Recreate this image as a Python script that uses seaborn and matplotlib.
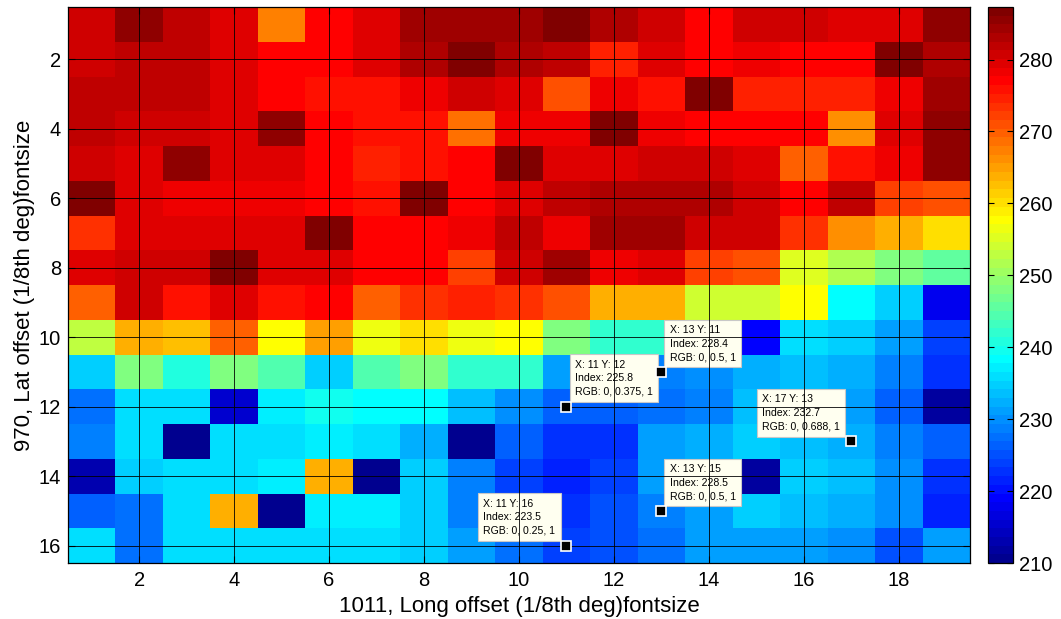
import numpy as np
import pandas as pd
import matplotlib
matplotlib.use("Agg")
import matplotlib.pyplot as plt
from matplotlib.colors import ListedColormap
import seaborn as sns

plt.rcParams['font.family'] = ['Liberation Sans', 'DejaVu Sans']

# ---- data (rows = Lat offset 1..16, cols = Long offset 1..19) ----
lon_idx = list(range(1, 20))
lat_idx = list(range(1, 17))
row01 = [281, 286, 282, 279.5, 267.4, 277, 279.5, 284.3, 284.3, 284.3, 287, 283, 281, 277, 281, 281, 279.5, 279.5, 286]
row02 = [281, 282, 282, 279.5, 277, 277, 279.5, 283, 287, 283, 282, 275.1, 279.5, 277, 278.2, 277, 277, 287, 283]
row03 = [282, 282, 282, 279.5, 277, 276, 276, 278, 281, 279.5, 271, 278, 276, 287, 274.7, 274.7, 274.7, 278, 284]
row04 = [282, 280.5, 280.5, 279.5, 286, 277, 276, 276, 268.6, 278, 278, 287, 278, 277, 277, 277, 266.6, 279.5, 286]
row05 = [280.5, 279.5, 286, 279.5, 279.5, 277, 274.7, 276, 277, 287, 279.5, 279.5, 281, 281, 279.5, 269.8, 276, 278, 286]
row06 = [287, 279.5, 278, 278, 278, 277, 276, 287, 277, 279.5, 282, 283, 283, 283.5, 281, 277, 282, 272.3, 271]
row07 = [273.5, 279.5, 279.5, 279.5, 279.5, 287, 277, 277, 278, 282, 278, 284.3, 284.3, 281, 281, 273.5, 266.6, 264.1, 260.2]
row08 = [279.5, 281, 281, 287, 279.5, 279.5, 277, 277, 272.3, 281, 284, 278, 279.5, 272.3, 271, 255.2, 251.3, 247.5, 245.6]
row09 = [269.8, 281, 276, 279.5, 275.5, 277, 269.8, 273.5, 274.7, 273.5, 271, 264.1, 264.1, 253.9, 253.9, 257.7, 238.4, 234.6, 217.7]
row10 = [252.9, 264.1, 262.5, 269.8, 257.7, 265.5, 256.4, 260.2, 256.4, 257.7, 247.5, 242, 242, 238, 219.5, 235.9, 234.6, 230.6, 223.7]
row11 = [234.6, 248.6, 240.2, 247.5, 244.8, 234.6, 244.8, 248.5, 242, 242, 230.6, 228, 228.4, 229.5, 232, 233.2, 232, 228.4, 222.6]
row12 = [227.5, 236, 236, 215.2, 237.2, 240, 238.5, 238.5, 233.2, 229.5, 225.8, 225.8, 227, 228.4, 233, 232, 230.6, 225.8, 211.3]
row13 = [228.4, 236, 210.5, 236, 236, 237.2, 236, 232, 210.5, 226, 223, 223, 230.6, 232, 234.6, 233, 232.7, 228.4, 225.8]
row14 = [212.7, 234.6, 236, 236, 237.2, 264, 210.5, 234.6, 228.4, 223.7, 221.5, 223.7, 230.6, 232, 212, 234.6, 233, 229.5, 222.6]
row15 = [225.8, 227.5, 236, 264, 210.5, 237.2, 237.2, 234.6, 228.4, 224.5, 222.6, 224.5, 228.5, 230.6, 234.6, 233, 232, 229.5, 221.5]
row16 = [236, 227.5, 236, 236, 236, 236, 236, 234.6, 230.6, 227, 223.5, 224.5, 228, 230.6, 230.6, 230.6, 229.5, 224.5, 230.6]

x_ticks = [2, 4, 6, 8, 10, 12, 14, 16, 18]
y_ticks = [2, 4, 6, 8, 10, 12, 14, 16]
cbar_ticks = [210, 220, 230, 240, 250, 260, 270, 280]
c_min, c_max = 210.0, 287.3

# data tips: (X, Y)
tip_x = [13, 11, 17, 13, 11]
tip_y = [11, 12, 13, 15, 16]
tip_side = ['ur', 'ur', 'ul', 'ur', 'ul']

grid = np.array([row01, row02, row03, row04, row05, row06, row07, row08,
                 row09, row10, row11, row12, row13, row14, row15, row16])
df = pd.DataFrame(grid, index=lat_idx, columns=lon_idx)

# MATLAB jet(64)
def matlab_jet(m=64):
    n = int(np.ceil(m / 4))
    u = np.concatenate([np.arange(1, n + 1) / n, np.ones(n - 1), np.arange(n, 0, -1) / n])
    g = int(np.ceil(n / 2)) - (1 if m % 4 == 1 else 0) + np.arange(1, len(u) + 1)
    r = g + n
    b = g - n
    g = g[g <= m]
    r = r[r <= m]
    b = b[b >= 1]
    J = np.zeros((m, 3))
    J[r - 1, 0] = u[:len(r)]
    J[g - 1, 1] = u[:len(g)]
    J[b - 1, 2] = u[len(u) - len(b):]
    return J

jet = matlab_jet(64)
cmap = ListedColormap(jet)

fig = plt.figure(figsize=(10.61, 6.19), dpi=100)
W, H = 1061, 619
ax = fig.add_axes([68 / W, (H - 563) / H, (970 - 68) / W, (563 - 7) / H])
cax = fig.add_axes([988 / W, (H - 563) / H, (1013 - 988) / W, (563 - 7) / H])

sns.heatmap(df, cmap=cmap, vmin=c_min, vmax=c_max, ax=ax, cbar_ax=cax,
            xticklabels=False, yticklabels=False, linewidths=0)

ax.set_xticks([v - 0.5 for v in x_ticks])
ax.set_xticklabels([str(v) for v in x_ticks])
ax.set_yticks([v - 0.5 for v in y_ticks])
ax.set_yticklabels([str(v) for v in y_ticks], rotation=0)
ax.tick_params(direction='in', length=5, width=0.8, labelsize=14.5, color='black',
               top=True, right=True, bottom=True, left=True)
ax.tick_params(axis='x', pad=6)
ax.tick_params(axis='y', pad=5)
ax.set_axisbelow(False)
ax.grid(True, color='black', linewidth=0.7, alpha=0.85)
for s in ax.spines.values():
    s.set_visible(True)
    s.set_color('black')
    s.set_linewidth(0.9)
ax.set_xlabel('1011, Long offset (1/8th deg)fontsize', fontsize=16, labelpad=4)
ax.set_ylabel('970, Lat offset (1/8th deg)fontsize', fontsize=16, labelpad=3)

cbar = ax.collections[0].colorbar
cbar.set_ticks(cbar_ticks)
cax.tick_params(direction='in', length=4, width=0.8, labelsize=14.5, pad=4,
                left=True, right=True, labelleft=False, labelright=True)
cbar.outline.set_visible(True)
cbar.outline.set_edgecolor('black')
cbar.outline.set_linewidth(0.9)

norm = plt.Normalize(c_min, c_max)
for tx, ty, side in zip(tip_x, tip_y, tip_side):
    val = df.loc[ty, tx]
    rgb = cmap(norm(val))[:3]
    label = "X: %d Y: %d\nIndex: %.4g\nRGB: %s" % (tx, ty, val, ", ".join("%.3g" % c for c in rgb))
    px, py = tx - 0.5, ty - 0.5
    ax.plot([px], [py], marker='s', markersize=6.5, mfc='black', mec='white', mew=1.2,
            zorder=5, clip_on=False)
    if side == 'ur':
        off, ha = (6, 7), 'left'
    else:
        off, ha = (-8, 7), 'right'
    ax.annotate(label, xy=(px, py), xytext=off, textcoords='offset points',
                ha=ha, va='bottom', multialignment='left', fontsize=7.6,
                linespacing=1.45, zorder=2,
                bbox=dict(boxstyle='square,pad=0.5', fc='#FFFFF0', ec='#C8C8C8', lw=0.8))

fig.savefig('out.png', dpi=100)
